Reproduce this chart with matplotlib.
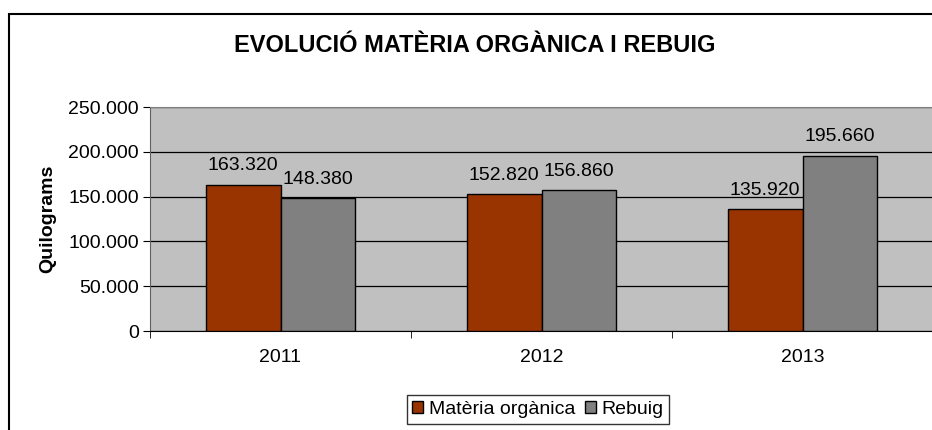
import numpy as np
import matplotlib.pyplot as plt
from matplotlib.patches import Rectangle
from matplotlib.ticker import FuncFormatter

plt.rcParams['font.family'] = ['Liberation Sans', 'DejaVu Sans']

years = ['2011', '2012', '2013']
organica = [163320, 152820, 135920]
rebuig = [148380, 156860, 195660]
series_names = ['Matèria orgànica', 'Rebuig']


def fmt_thousands(v, pos=None):
    return f'{int(v):,}'.replace(',', '.')


fig = plt.figure(figsize=(9.32, 4.30), dpi=100)
# outer chart border (cut at right and bottom as in the original)
fig.add_artist(Rectangle((8.5 / 932, -0.05), 1.1, (430 - 13.5) / 430 + 0.05,
                         transform=fig.transFigure, fill=False,
                         edgecolor='black', linewidth=1.5))

ax = fig.add_axes([150 / 932, 99 / 430, 783 / 932, 224 / 430])
ax.set_facecolor('#C0C0C0')

x = np.arange(len(years))
w = 0.287
b1 = ax.bar(x - w / 2, organica, w, color='#993300', edgecolor='black',
            linewidth=1, label=series_names[0], zorder=3)
b2 = ax.bar(x + w / 2, rebuig, w, color='#808080', edgecolor='black',
            linewidth=1, label=series_names[1], zorder=3)

for bars in (b1, b2):
    for r in bars:
        ax.text(r.get_x() + r.get_width() / 2, r.get_height() + 16000,
                fmt_thousands(r.get_height()), ha='center', va='baseline',
                fontsize=14, zorder=4)

ax.set_xlim(-0.5, 2.5)
ax.set_ylim(0, 250000)
ax.set_yticks(np.arange(0, 250001, 50000))
ax.yaxis.set_major_formatter(FuncFormatter(fmt_thousands))
ax.grid(axis='y', color='black', linewidth=0.9, zorder=1)
ax.set_axisbelow(True)

ax.set_xticks(x)
ax.set_xticklabels(years, fontsize=14)
ax.set_xticks([-0.5, 0.5, 1.5, 2.5], minor=True)
ax.tick_params(axis='x', which='major', length=0, pad=13)
ax.tick_params(axis='x', which='minor', length=5, color='black', direction='out')
ax.tick_params(axis='y', length=5, labelsize=14, color='black', pad=3)

for s in ('top', 'right'):
    ax.spines[s].set_color('#808080')
ax.spines['left'].set_color('#606060')
ax.spines['bottom'].set_color('black')

ax.set_ylabel('Quilograms', fontsize=14, fontweight='bold', labelpad=9)

fig.text(475 / 932, 1 - 46 / 430, 'EVOLUCIÓ MATÈRIA ORGÀNICA I REBUIG',
         ha='center', va='center', fontsize=17, fontweight='bold')

leg = fig.legend(loc='upper center', bbox_to_anchor=(538 / 932, 1 - 395 / 430),
                 ncol=2, fontsize=14, frameon=True, fancybox=False,
                 handlelength=0.55, handleheight=0.55, handletextpad=0.3,
                 columnspacing=0.5, borderpad=0.3, borderaxespad=0)
leg.get_frame().set_edgecolor('black')
leg.get_frame().set_linewidth(1)

fig.savefig('out.png', dpi=100)
